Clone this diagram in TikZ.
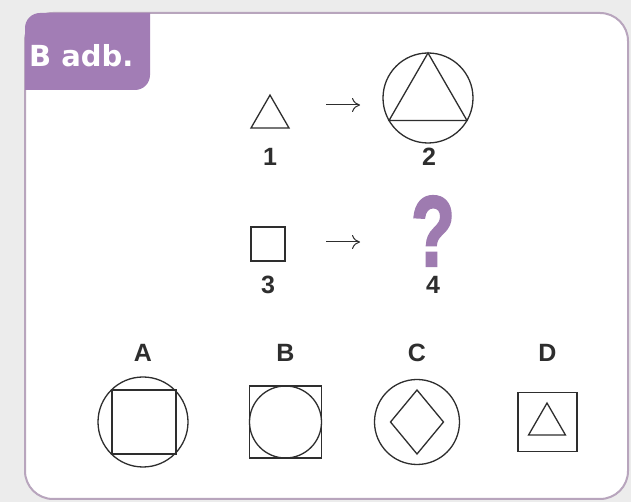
\documentclass[tikz,border=0pt]{standalone}
\usepackage{fontspec}
\setmainfont{Liberation Sans}
\newfontfamily\tabfont{DejaVu Sans}
\newfontfamily\qfont[BoldFeatures={FakeBold=2.5}]{Liberation Sans}
\definecolor{TabPurple}{HTML}{A27DB5}
\definecolor{QPurple}{HTML}{9E7BB0}
\definecolor{FrameLine}{HTML}{B8A5BD}
\definecolor{PageGray}{HTML}{ECECEC}
\definecolor{InkGray}{HTML}{2E2E2E}
\usetikzlibrary{arrows.meta, shapes.geometric}
\tikzset{
  shp/.style={draw=InkGray, line width=1.3pt, inner sep=0pt, outer sep=0pt},
  circ/.style={shp, circle},
  sqr/.style={shp, rectangle},
  tri/.style={shp, regular polygon, regular polygon sides=3},
  rhomb/.style={shp, diamond},
  num/.style={font=\fontsize{25}{25}\selectfont\bfseries, text=InkGray, anchor=base, inner sep=0pt},
  arrow/.style={-{To[length=8pt, width=14pt]}, line width=1pt, draw=InkGray}
}

\begin{document}
\begin{tikzpicture}[x=1pt, y=1pt]
% page and card
\fill[PageGray] (0,0) rectangle (631,502);
\draw[FrameLine, line width=2pt, fill=white, rounded corners=28pt] (25,3) rectangle (628,489);
\fill[TabPurple] (25,412) -- (25,474) arc[start angle=180, end angle=90, radius=15] -- (150,489)
  -- (150,427) arc[start angle=0, end angle=-90, radius=15] -- cycle;
\node[anchor=base west, inner sep=0pt, text=white, font=\tabfont\fontsize{29}{29}\selectfont\bfseries] (title) at (29,435) {B adb.};

% first pair
\node[tri, minimum size=43.8pt] (tri1) at (270,385) {};
\node[circ, minimum size=90pt] (circ2) at (428,404) {};
\node[tri, minimum size=90pt] (tri2) at (428,404) {};
\node[num] (n1) at (270,336) {1};
\node[num] (n2) at (429,336) {2};
\coordinate (a1s) at (326,397);
\coordinate (a1e) at (360,397);
\draw[arrow] (a1s) -- (a1e);

% second pair
\node[sqr, minimum size=34pt] (sq3) at (268,258) {};
\node[anchor=base, inner sep=0pt, text depth=0pt, xscale=0.72, text=QPurple, font=\qfont\fontsize{100}{100}\selectfont\bfseries] (qm) at (433,236) {?};
\node[num] (n3) at (268,208) {3};
\node[num] (n4) at (433,208) {4};
\coordinate (a2s) at (326,260);
\coordinate (a2e) at (360,260);
\draw[arrow] (a2s) -- (a2e);

% answer options
\node[num] (la) at (143,140) {A};
\node[num] (lb) at (285.5,140) {B};
\node[num] (lc) at (417,140) {C};
\node[num] (ld) at (547.5,140) {D};

\node[circ, minimum size=90pt] (optAc) at (143,80) {};
\node[sqr, minimum size=64pt] (optAs) at (144,80) {};
\node[sqr, minimum size=72pt] (optBs) at (285.5,80) {};
\node[circ, minimum size=72pt] (optBc) at (285.5,80) {};
\node[circ, minimum size=85pt] (optCc) at (417,80) {};
\node[rhomb, minimum width=53pt, minimum height=64pt] (optCd) at (417,80) {};
\node[sqr, minimum size=59pt] (optDs) at (547.5,80) {};
\node[tri, minimum size=42.7pt] (optDt) at (547,77.6) {};
\end{tikzpicture}
\end{document}
